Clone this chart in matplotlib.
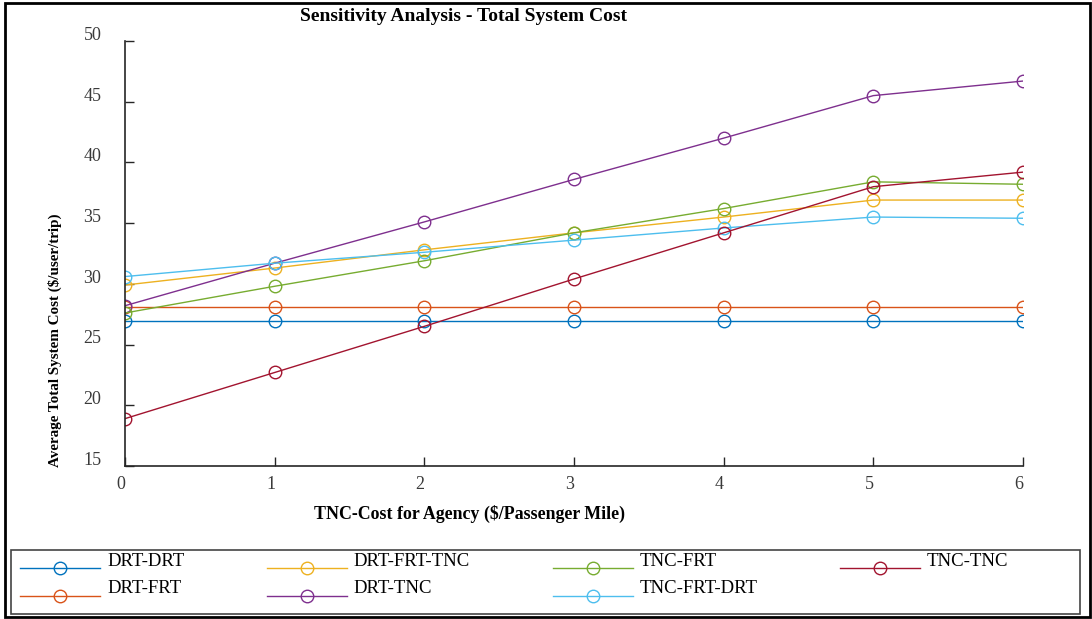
import matplotlib
matplotlib.use('Agg')
import matplotlib.pyplot as plt
from matplotlib.patches import Rectangle
from matplotlib.transforms import ScaledTranslation

plt.rcParams['font.family'] = ['Liberation Serif', 'DejaVu Serif']

# TNC cost for agency ($/passenger mile)
cost = [0, 1, 2, 3, 4, 5, 6]

# average total system cost ($/user/trip)
drt_drt = [26.9, 26.9, 26.9, 26.9, 26.9, 26.9, 26.9]
drt_frt = [28.1, 28.1, 28.1, 28.1, 28.1, 28.1, 28.1]
drt_frt_tnc = [29.9, 31.3, 32.8, 34.2, 35.5, 36.9, 36.9]
drt_tnc = [28.2, 31.7, 35.1, 38.6, 42.0, 45.5, 46.7]
tnc_frt = [27.6, 29.8, 31.9, 34.2, 36.2, 38.4, 38.2]
tnc_frt_drt = [30.6, 31.7, 32.6, 33.6, 34.6, 35.5, 35.4]
tnc_tnc = [18.9, 22.7, 26.5, 30.4, 34.2, 38.0, 39.2]

series = [
    ('DRT-DRT', drt_drt, '#0072BD'),
    ('DRT-FRT', drt_frt, '#D95319'),
    ('DRT-FRT-TNC', drt_frt_tnc, '#EDB120'),
    ('DRT-TNC', drt_tnc, '#7E2F8E'),
    ('TNC-FRT', tnc_frt, '#77AC30'),
    ('TNC-FRT-DRT', tnc_frt_drt, '#4DBEEE'),
    ('TNC-TNC', tnc_tnc, '#A2142F'),
]

fig = plt.figure(figsize=(10.92, 6.19), dpi=100)
ax = fig.add_axes([0.1145, 0.2472, 0.8223, 0.6866])

for name, vals, col in series:
    ax.plot(cost, vals, marker='o', markersize=9, markerfacecolor='none',
            markeredgewidth=1.0, linewidth=1.0, color=col, label=name)

ax.set_xlim(0, 6)
ax.set_ylim(15, 50)
ax.set_xticks(cost)
ax.set_yticks([15, 20, 25, 30, 35, 40, 45, 50])
ax.spines['top'].set_visible(False)
ax.spines['right'].set_visible(False)
for s in ['left', 'bottom']:
    ax.spines[s].set_color('#262626')
    ax.spines[s].set_linewidth(1.2)
ax.tick_params(direction='in', length=6.5, width=1.0, colors='#262626',
               labelsize=13, labelcolor='#3a3a3a')
ax.tick_params(axis='y', pad=17)
ax.tick_params(axis='x', pad=7)

# tick labels sit a little off their ticks in the original
fig.canvas.draw()
for lab in ax.get_yticklabels():
    lab.set_transform(lab.get_transform() + ScaledTranslation(0, 5.5 / 72, fig.dpi_scale_trans))
for lab in ax.get_xticklabels():
    lab.set_transform(lab.get_transform() + ScaledTranslation(-3 / 72, 0, fig.dpi_scale_trans))

fig.text(0.424, 0.974, 'Sensitivity Analysis - Total System Cost',
         ha='center', va='center', fontsize=14, fontweight='bold')
fig.text(0.43, 0.170, 'TNC-Cost for Agency ($/Passenger Mile)',
         ha='center', va='center', fontsize=12.9, fontweight='bold')
fig.text(0.050, 0.451, 'Average Total System Cost ($/user/trip)',
         ha='center', va='center', rotation=90, fontsize=10.9, fontweight='bold')

# legend: frame drawn separately, entries laid out by matplotlib
fig.add_artist(Rectangle((0.0101, 0.0081), 0.979, 0.1034, transform=fig.transFigure,
                         fill=False, edgecolor='#444444', linewidth=1.2))
leg = fig.legend(loc='center left', bbox_to_anchor=(20 / 1092, 0.0565),
                 ncol=4, fontsize=13.5, handlelength=4.27,
                 handletextpad=0.37, columnspacing=4.4, labelspacing=0.55,
                 borderpad=0, borderaxespad=0, frameon=False)
for t in leg.get_texts():
    t.set_transform(t.get_transform() + ScaledTranslation(0, 6.5 / 72, fig.dpi_scale_trans))

fig.add_artist(Rectangle((0.0046, 0.0032), 0.9936, 0.992, transform=fig.transFigure,
                         fill=False, edgecolor='black', linewidth=2.0))

fig.savefig('out.png', dpi=100)
